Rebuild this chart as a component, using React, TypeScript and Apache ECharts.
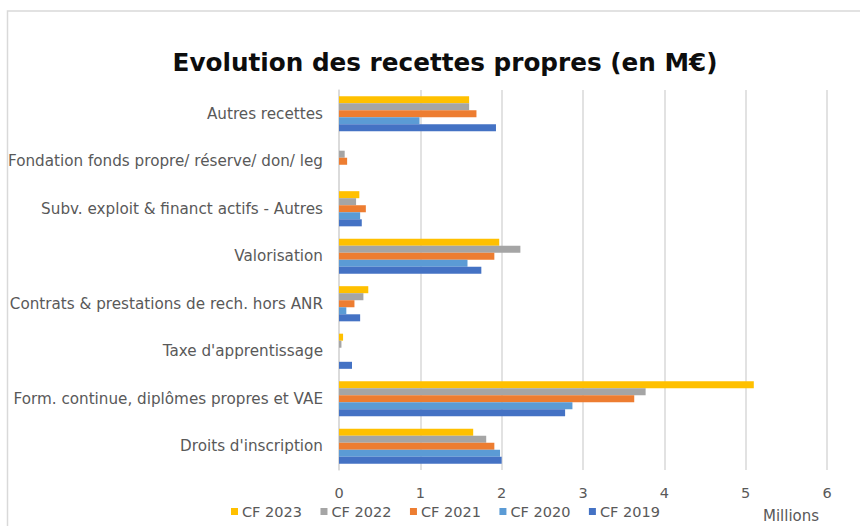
import React, { useEffect, useRef } from "react";
import * as echarts from "echarts";

const categories = [
  "Droits d'inscription",
  "Form. continue, diplômes propres et VAE",
  "Taxe d'apprentissage",
  "Contrats & prestations de rech. hors ANR",
  "Valorisation",
  "Subv. exploit & financt actifs - Autres",
  "Fondation fonds propre/ réserve/ don/ leg",
  "Autres recettes",
];

const cf2023 = [1.65, 5.1, 0.05, 0.36, 1.97, 0.25, 0, 1.6];
const cf2022 = [1.81, 3.77, 0.03, 0.3, 2.23, 0.21, 0.07, 1.6];
const cf2021 = [1.91, 3.63, 0, 0.19, 1.91, 0.33, 0.1, 1.69];
const cf2020 = [1.98, 2.87, 0, 0.09, 1.58, 0.26, 0, 0.99];
const cf2019 = [2.0, 2.78, 0.16, 0.26, 1.75, 0.28, 0, 1.93];

const seriesNames = ["CF 2023", "CF 2022", "CF 2021", "CF 2020", "CF 2019"];
const seriesData = [cf2023, cf2022, cf2021, cf2020, cf2019];
const colors = ["#FFC000", "#A5A5A5", "#ED7D31", "#5B9BD5", "#4472C4"];
const xTicks = [0, 1, 2, 3, 4, 5, 6];

const FONT = "DejaVu Sans";

export default function App() {
  const ref = useRef<HTMLDivElement>(null);
  useEffect(() => {
    if (!ref.current) return;
    const chart = echarts.init(ref.current, undefined, { renderer: "svg" });
    chart.setOption({
      animation: false,
      backgroundColor: "#ffffff",
      title: {
        text: "Evolution des recettes propres (en M€)",
        left: 440,
        top: 45,
        textAlign: "center",
        textStyle: { fontFamily: FONT, fontSize: 24.7, fontWeight: "bold", color: "#0d0d0d" },
      },
      legend: {
        data: seriesNames,
        left: 226,
        top: 499,
        itemWidth: 7,
        itemHeight: 7,
        itemGap: 18.5,
        icon: "rect",
        textStyle: { fontFamily: FONT, fontSize: 14.5, color: "#595959", padding: [0, 0, 0, -1] },
      },
      grid: { left: 339, right: 33, top: 90, bottom: 56, containLabel: false },
      xAxis: {
        type: "value",
        min: xTicks[0],
        max: xTicks[xTicks.length - 1],
        interval: 1,
        axisLine: { show: false },
        axisTick: { show: false },
        axisLabel: { fontFamily: FONT, fontSize: 14.5, color: "#595959", margin: 15 },
        splitLine: { lineStyle: { color: "#d9d9d9", width: 1.5 } },
      },
      yAxis: {
        type: "category",
        data: categories,
        axisLine: { show: true, lineStyle: { color: "#d9d9d9", width: 1.5 } },
        axisTick: { show: false },
        axisLabel: { fontFamily: FONT, fontSize: 15.2, color: "#595959", margin: 16 },
      },
      series: seriesNames.map((name, i) => ({
        name,
        type: "bar",
        data: seriesData[i],
        barGap: "0%",
        barCategoryGap: "26%",
        itemStyle: { color: colors[i] },
      })),
      graphic: [
        {
          type: "rect",
          shape: { x: 7.5, y: 11, width: 900, height: 600 },
          style: { fill: "none", stroke: "#d9d9d9", lineWidth: 1.5 },
          z: -1,
        },
        {
          type: "text",
          left: 763,
          top: 508,
          style: { text: "Millions", fontFamily: FONT, fontSize: 15, fill: "#595959" },
        },
      ],
    });
    return () => chart.dispose();
  }, []);
  return (
    <div
      ref={ref}
      style={{ position: "absolute", left: 0, top: 0, width: 860, height: 526 }}
    />
  );
}
